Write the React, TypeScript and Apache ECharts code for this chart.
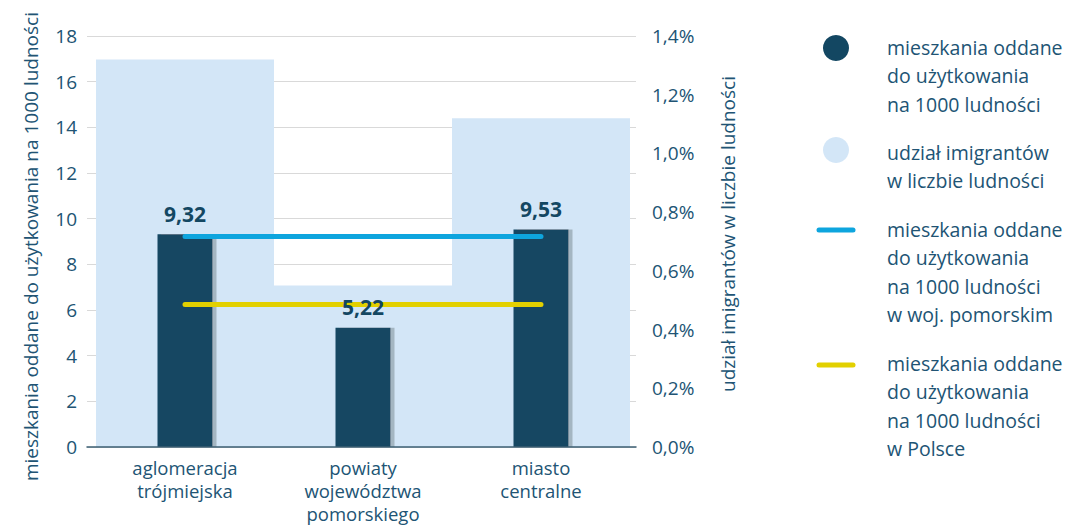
import React, { useEffect, useRef } from "react";
import * as echarts from "echarts";

const categories = ["aglomeracja\ntrójmiejska", "powiaty\nwojewództwa\npomorskiego", "miasto\ncentralne"];
const dwellings = [9.32, 5.22, 9.53];
const immigrantsShare = [1.32, 0.55, 1.12];
const pomorskieAvg = [9.22, 9.22, 9.22];
const polandAvg = [6.24, 6.24, 6.24];
const leftTicks = { min: 0, max: 18, interval: 2 };
const rightTicks = { min: 0, max: 1.4, interval: 0.2 };

const legendItems = [
  "mieszkania oddane\ndo użytkowania\nna 1000 ludności",
  "udział imigrantów\nw liczbie ludności",
  "mieszkania oddane\ndo użytkowania\nna 1000 ludności\nw woj. pomorskim",
  "mieszkania oddane\ndo użytkowania\nna 1000 ludności\nw Polsce",
];

const FONT = "'Open Sans'";
const TXT = "#215474";
const DARK = "#134762";
const LIGHT = "#d3e6f7";
const BLUE = "#0ea5de";
const YELLOW = "#e2d000";

export default function App() {
  const ref = useRef<HTMLDivElement>(null);
  useEffect(() => {
    const chart = echarts.init(ref.current!, null, { renderer: "svg" });
    const fmt = (v: number) => v.toFixed(2).replace(".", ",");
    chart.setOption({
      animation: false,
      textStyle: { fontFamily: FONT },
      grid: [
        { left: 87, right: 1074 - 636, top: 36, bottom: 526 - 447, outerBoundsMode: "none" },
        { left: 96, right: 1074 - 630, top: 36, bottom: 526 - 447, outerBoundsMode: "none" },
      ],
      xAxis: [
        {
          gridIndex: 0,
          type: "category",
          data: categories,
          axisLine: { lineStyle: { color: "#3d5f73", width: 1.5 } },
          axisTick: { show: false },
          axisLabel: { show: false },
          z: 6,
        },
        {
          gridIndex: 1,
          type: "category",
          data: categories,
          axisLine: { show: false },
          axisTick: { show: false },
          axisLabel: { color: TXT, fontSize: 18.5, lineHeight: 23, margin: 9, fontFamily: FONT },
        },
        {
          gridIndex: 1,
          type: "category",
          data: categories,
          show: false,
        },
      ],
      yAxis: [
        {
          gridIndex: 0,
          type: "value",
          ...leftTicks,
          axisLabel: { color: TXT, fontSize: 19, margin: 10, fontFamily: FONT },
          splitLine: { lineStyle: { color: "#d9d9d9" } },
          axisLine: { show: false },
        },
        {
          gridIndex: 0,
          type: "value",
          ...rightTicks,
          position: "right",
          axisLabel: {
            color: TXT,
            fontSize: 19,
            margin: 16,
            fontFamily: FONT,
            formatter: (v: number) => v.toFixed(1).replace(".", ",") + "%",
          },
          splitLine: { show: false },
          axisLine: { show: false },
        },
        { gridIndex: 1, type: "value", ...leftTicks, show: false, splitLine: { show: false } },
        { gridIndex: 1, type: "value", ...rightTicks, show: false, splitLine: { show: false } },
      ],
      series: [
        {
          type: "bar",
          name: "udział imigrantów w liczbie ludności",
          xAxisIndex: 2,
          yAxisIndex: 3,
          data: immigrantsShare,
          barWidth: "100%",
          itemStyle: { color: LIGHT },
          z: 1,
        },
        {
          type: "bar",
          name: "mieszkania oddane do użytkowania na 1000 ludności",
          xAxisIndex: 1,
          yAxisIndex: 2,
          data: dwellings,
          barWidth: 55,
          barGap: "-100%",
          itemStyle: {
            color: DARK,
            shadowColor: "#a4b6c2",
            shadowOffsetX: 4,
            shadowOffsetY: 0,
            shadowBlur: 0,
          },
          z: 3,
        },
        {
          type: "line",
          name: "mieszkania oddane do użytkowania na 1000 ludności w woj. pomorskim",
          xAxisIndex: 1,
          yAxisIndex: 2,
          data: pomorskieAvg,
          showSymbol: false,
          symbol: "none",
          lineStyle: { color: BLUE, width: 5, cap: "round" },
          z: 5,
        },
        {
          type: "line",
          name: "mieszkania oddane do użytkowania na 1000 ludności w Polsce",
          xAxisIndex: 1,
          yAxisIndex: 2,
          data: polandAvg,
          showSymbol: false,
          symbol: "none",
          lineStyle: { color: YELLOW, width: 5, cap: "round" },
          z: 5,
        },
        {
          type: "bar",
          name: "etykiety",
          xAxisIndex: 1,
          yAxisIndex: 2,
          data: dwellings,
          barWidth: 55,
          barGap: "-100%",
          itemStyle: { color: "rgba(0,0,0,0)" },
          label: {
            show: true,
            position: "top",
            distance: 10,
            color: DARK,
            fontSize: 21,
            fontWeight: "bold",
            fontFamily: FONT,
            formatter: (p: any) => fmt(p.value),
          },
          silent: true,
          z: 10,
        },
      ],
      graphic: [
        {
          type: "text",
          x: 31,
          y: 12,
          rotation: Math.PI / 2,
          style: {
            text: "mieszkania oddane do użytkowania na 1000 ludności",
            fill: TXT,
            font: `19px ${FONT}`,
            align: "right",
            verticalAlign: "middle",
          },
        },
        {
          type: "text",
          x: 728,
          y: 234,
          rotation: Math.PI / 2,
          style: {
            text: "udział imigrantów w liczbie ludności",
            fill: TXT,
            font: `19px ${FONT}`,
            align: "center",
            verticalAlign: "middle",
          },
        },
        { type: "circle", shape: { cx: 836, cy: 48, r: 13 }, style: { fill: DARK } },
        { type: "circle", shape: { cx: 836, cy: 150, r: 13 }, style: { fill: LIGHT } },
        {
          type: "line",
          shape: { x1: 819, y1: 230, x2: 853, y2: 230 },
          style: { stroke: BLUE, lineWidth: 5, lineCap: "round" },
        },
        {
          type: "line",
          shape: { x1: 819, y1: 365, x2: 853, y2: 365 },
          style: { stroke: YELLOW, lineWidth: 5, lineCap: "round" },
        },
        ...[33, 138, 215, 349].map((y, i) => ({
          type: "text",
          x: 887,
          y,
          style: {
            text: legendItems[i],
            fill: TXT,
            font: `19.5px ${FONT}`,
            lineHeight: 28.5,
            align: "left",
            verticalAlign: "top",
          },
        })),
      ],
    });
    return () => chart.dispose();
  }, []);
  return (
    <div
      ref={ref}
      style={{ position: "fixed", left: 0, top: 0, width: 1074, height: 526, background: "#fff" }}
    />
  );
}
